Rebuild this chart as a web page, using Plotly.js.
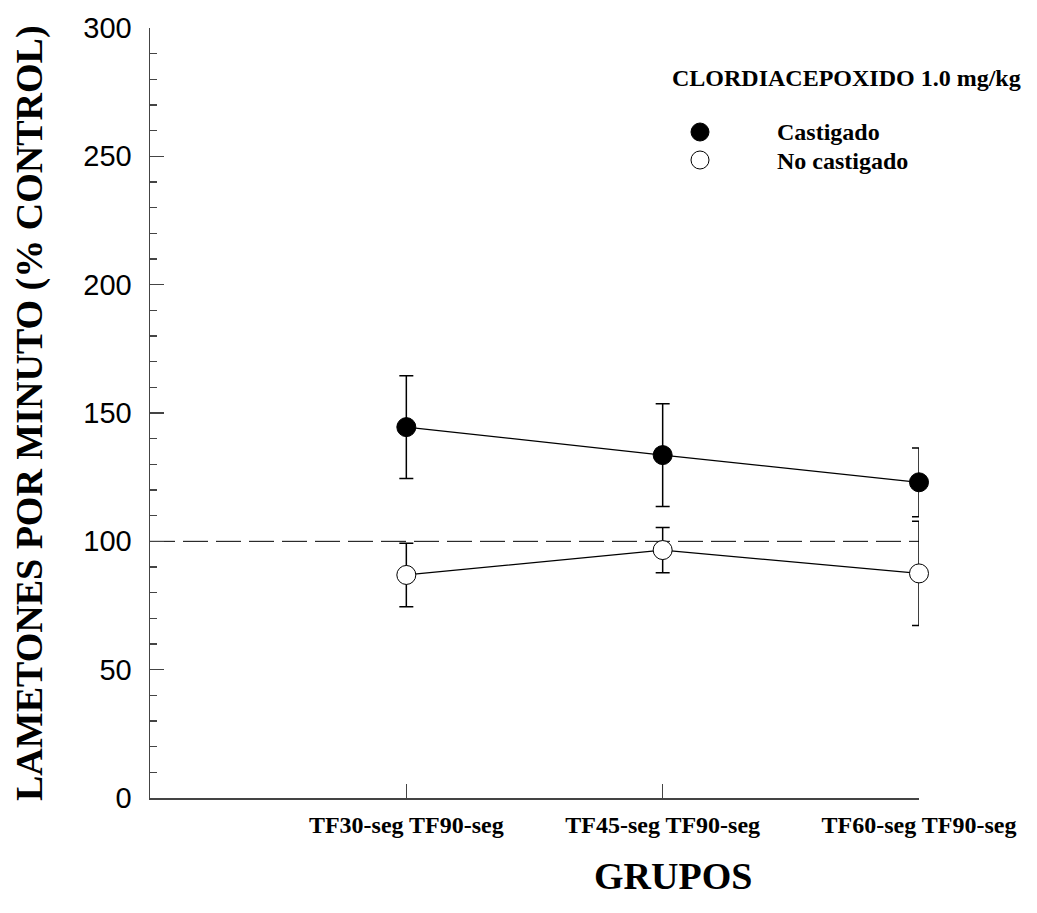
<!DOCTYPE html>
<html>
<head>
<meta charset="utf-8">
<script src="https://cdn.plot.ly/plotly-3.0.1.min.js"></script>
<style>html,body{margin:0;padding:0;background:#fff;}#chart{width:1037px;height:913px;}</style>
</head>
<body>
<div id="chart"></div>
<script>
const groups = ["TF30-seg TF90-seg", "TF45-seg TF90-seg", "TF60-seg TF90-seg"];
const groupPos = [1, 2, 3];
const castigado = [144.5, 133.6, 123.0];
const castigadoErr = [20.0, 20.0, 13.4];
const noCastigado = [86.9, 96.6, 87.5];
const noCastigadoErr = [12.4, 8.8, 20.3];
const controlLevel = 100;
const yTicks = [0, 50, 100, 150, 200, 250, 300];

const serif = "Liberation Serif, Times New Roman, serif";
const sans = "Liberation Sans, Arial, sans-serif";

const traces = [
  {
    x: groupPos, y: castigado, type: "scatter", mode: "lines+markers", name: "Castigado",
    cliponaxis: false,
    line: {color: "#000", width: 1.3},
    marker: {symbol: "circle", size: 19, color: "#000", line: {color: "#000", width: 1}},
    error_y: {type: "data", array: castigadoErr, visible: true, color: "#000", thickness: 1.5, width: 7}
  },
  {
    x: groupPos, y: noCastigado, type: "scatter", mode: "lines+markers", name: "No castigado",
    cliponaxis: false,
    line: {color: "#000", width: 1.3},
    marker: {symbol: "circle", size: 19, color: "#fff", line: {color: "#000", width: 1}},
    error_y: {type: "data", array: noCastigadoErr, visible: true, color: "#000", thickness: 1.5, width: 7}
  }
];

const layout = {
  width: 1037, height: 913,
  margin: {l: 150, r: 118, t: 28, b: 115, pad: 0},
  paper_bgcolor: "#fff", plot_bgcolor: "#fff",
  showlegend: false,
  xaxis: {
    range: [0, 3], tickvals: groupPos, ticktext: groups,
    showgrid: false, zeroline: false, showline: true, linecolor: "#444", linewidth: 1.5,
    ticks: "inside", ticklen: 14, tickwidth: 1.5, tickcolor: "#444",
    tickfont: {family: serif, size: 24, color: "#000", weight: "bold"},
    ticklabelstandoff: 5, automargin: false
  },
  yaxis: {
    range: [0, 300], tickvals: yTicks,
    showgrid: false, zeroline: false, showline: true, linecolor: "#444", linewidth: 1.5,
    ticks: "inside", ticklen: 14, tickwidth: 1.5, tickcolor: "#444",
    minor: {dtick: 10, ticks: "inside", ticklen: 7, tickwidth: 1.2, tickcolor: "#444"},
    tickfont: {family: sans, size: 29, color: "#000"},
    ticklabelstandoff: 11, automargin: false
  },
  shapes: [
    {type: "line", xref: "x", yref: "y", x0: 0, x1: 3.094, y0: controlLevel, y1: controlLevel,
     line: {color: "#000", width: 1, dash: "25px,8px"}, layer: "below"},
    {type: "circle", xref: "paper", yref: "paper", xsizemode: "pixel", ysizemode: "pixel",
     xanchor: (700 - 150) / 769, yanchor: (798 - 132) / 770, x0: -9, x1: 9, y0: -9, y1: 9,
     fillcolor: "#000", line: {color: "#000", width: 1}},
    {type: "circle", xref: "paper", yref: "paper", xsizemode: "pixel", ysizemode: "pixel",
     xanchor: (700 - 150) / 769, yanchor: (798 - 160) / 770, x0: -9, x1: 9, y0: -9, y1: 9,
     fillcolor: "#fff", line: {color: "#000", width: 1}}
  ],
  annotations: [
    {text: "LAMETONES POR MINUTO (% CONTROL)", xref: "paper", yref: "paper", x: 0, y: 0.5,
     xanchor: "center", yanchor: "middle", xshift: -121, yshift: 0, textangle: -90, showarrow: false,
     font: {family: serif, size: 38, color: "#000", weight: "bold"}},
    {text: "GRUPOS", xref: "paper", yref: "paper", x: (673 - 150) / 769, y: 0,
     xanchor: "center", yanchor: "middle", yshift: -78, showarrow: false,
     font: {family: serif, size: 38, color: "#000", weight: "bold"}},
    {text: "CLORDIACEPOXIDO 1.0 mg/kg", xref: "paper", yref: "paper", x: (670 - 150) / 769, y: (798 - 78) / 770,
     xanchor: "left", yanchor: "middle", showarrow: false,
     font: {family: serif, size: 24, color: "#000", weight: "bold"}},
    {text: "Castigado", xref: "paper", yref: "paper", x: (775 - 150) / 769, y: (798 - 132) / 770,
     xanchor: "left", yanchor: "middle", showarrow: false,
     font: {family: serif, size: 24, color: "#000", weight: "bold"}},
    {text: "No castigado", xref: "paper", yref: "paper", x: (775 - 150) / 769, y: (798 - 161) / 770,
     xanchor: "left", yanchor: "middle", showarrow: false,
     font: {family: serif, size: 24, color: "#000", weight: "bold"}}
  ]
};

Plotly.newPlot("chart", traces, layout, {displayModeBar: false, staticPlot: true});
</script>
</body>
</html>
